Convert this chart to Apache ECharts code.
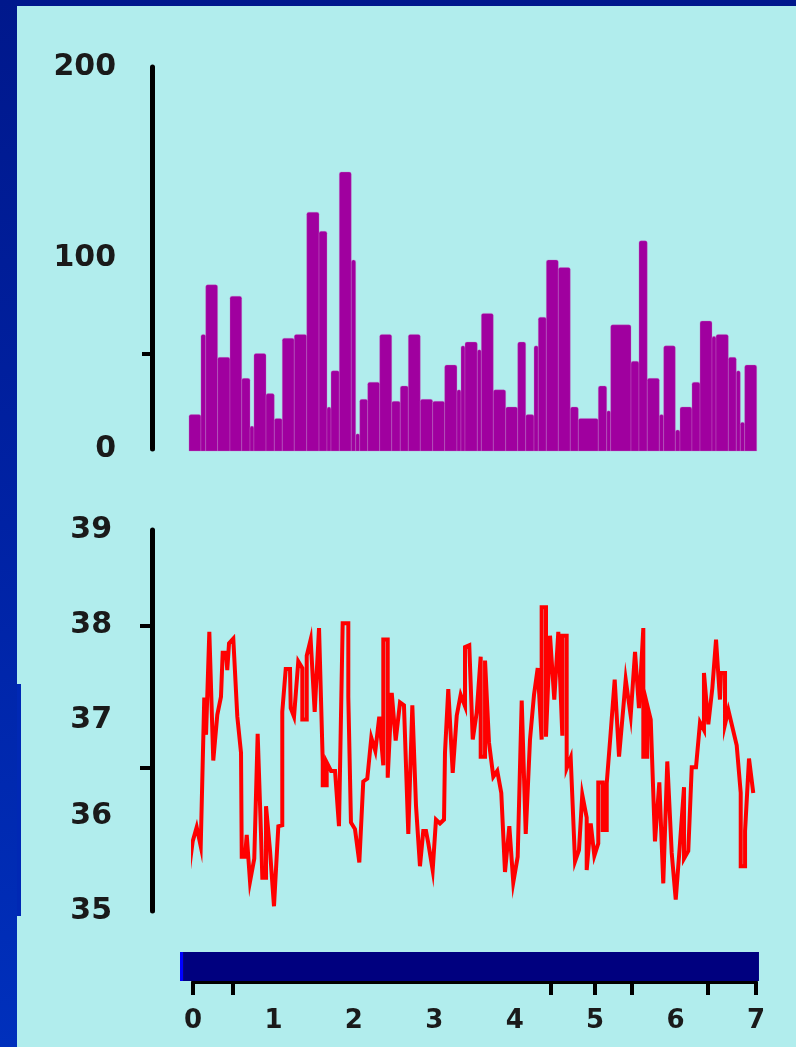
<!DOCTYPE html>
<html>
<head>
<meta charset="utf-8">
<script src="https://cdn.jsdelivr.net/npm/echarts@6/dist/echarts.min.js"></script>
<style>
  html, body { margin: 0; padding: 0; }
  body {
    width: 796px; height: 1047px; overflow: hidden; position: relative;
    background: linear-gradient(180deg, #00188c 0%, #0022a4 50%, #0030bc 100%);
  }
  #panel { position: absolute; left: 17px; top: 6px; right: 0; bottom: 0; background: #b1eded; }
  #notch { position: absolute; left: 17px; top: 684px; width: 4px; height: 232px; background: #0028b4; }
  #chart { position: absolute; left: 0; top: 0; width: 796px; height: 1047px; }
</style>
</head>
<body>
<div id="panel"></div>
<div id="notch"></div>
<div id="chart"></div>
<script>
// Activity counts per bin: bin edges in days, one count per bin
const barEdges = [-0.050, 0.099, 0.158, 0.306, 0.460, 0.606, 0.709, 0.758, 0.908, 1.011,
  1.110, 1.259, 1.414, 1.567, 1.666, 1.716, 1.819, 1.968, 2.023, 2.073,
  2.172, 2.321, 2.471, 2.577, 2.677, 2.826, 2.980, 3.129, 3.282, 3.332,
  3.382, 3.535, 3.585, 3.734, 3.888, 4.037, 4.137, 4.240, 4.293, 4.393,
  4.542, 4.691, 4.791, 5.039, 5.144, 5.193, 5.446, 5.545, 5.648, 5.798,
  5.852, 5.997, 6.055, 6.204, 6.304, 6.453, 6.503, 6.656, 6.755, 6.805,
  6.859, 7.009];
const barValues = [18, 60, 86, 48, 80, 37, 12, 50, 29, 16,
  58, 60, 124, 114, 22, 41, 145, 99, 8, 26,
  35, 60, 25, 33, 60, 26, 25, 44, 31, 54,
  56, 52, 71, 31, 22, 56, 18, 54, 69, 99,
  95, 22, 16, 33, 20, 65, 46, 109, 37, 18,
  54, 10, 22, 35, 67, 59, 60, 48, 41, 14,
  44];

// Body temperature samples (time in days, temperature in degrees)
const tempDays = [-0.058, -0.004, 0.046, 0.096, 0.140, 0.162, 0.203, 0.252, 0.302, 0.348,
  0.369, 0.410, 0.426, 0.448, 0.501, 0.551, 0.597, 0.606, 0.647, 0.668,
  0.709, 0.762, 0.804, 0.845, 0.862, 0.908, 0.908, 0.957, 1.007, 1.061,
  1.110, 1.110, 1.153, 1.206, 1.215, 1.256, 1.309, 1.359, 1.359, 1.414,
  1.414, 1.463, 1.513, 1.567, 1.613, 1.613, 1.662, 1.662, 1.716, 1.766,
  1.815, 1.861, 1.931, 1.931, 1.964, 2.014, 2.068, 2.117, 2.167, 2.217,
  2.267, 2.316, 2.366, 2.366, 2.421, 2.421, 2.471, 2.520, 2.574, 2.623,
  2.677, 2.727, 2.773, 2.822, 2.863, 2.897, 2.926, 2.980, 3.021, 3.071,
  3.121, 3.133, 3.174, 3.229, 3.279, 3.328, 3.382, 3.382, 3.435, 3.478,
  3.527, 3.577, 3.577, 3.631, 3.631, 3.680, 3.734, 3.783, 3.833, 3.879,
  3.933, 3.982, 4.037, 4.087, 4.137, 4.190, 4.240, 4.286, 4.335, 4.335,
  4.389, 4.389, 4.439, 4.492, 4.542, 4.592, 4.592, 4.646, 4.646, 4.696,
  4.750, 4.799, 4.840, 4.895, 4.895, 4.945, 4.990, 5.039, 5.039, 5.094,
  5.094, 5.144, 5.144, 5.193, 5.243, 5.297, 5.350, 5.380, 5.442, 5.496,
  5.545, 5.599, 5.599, 5.648, 5.648, 5.691, 5.744, 5.798, 5.847, 5.897,
  5.952, 6.002, 6.055, 6.105, 6.105, 6.158, 6.201, 6.254, 6.304, 6.353,
  6.353, 6.407, 6.457, 6.503, 6.552, 6.565, 6.615, 6.615, 6.656, 6.760,
  6.810, 6.810, 6.864, 6.864, 6.913, 6.966];
const tempValues = [35.38, 35.73, 35.88, 35.68, 37.24, 36.85, 37.93, 36.58, 37.06, 37.25,
  37.71, 37.71, 37.53, 37.81, 37.86, 37.04, 36.66, 35.57, 35.57, 35.80,
  35.31, 35.55, 36.86, 35.82, 35.35, 35.35, 36.10, 35.64, 35.05, 35.89,
  35.90, 37.09, 37.54, 37.54, 37.13, 37.04, 37.62, 37.55, 37.01, 37.01,
  37.68, 37.85, 37.09, 37.97, 36.57, 36.32, 36.32, 36.56, 36.47, 36.47,
  35.89, 38.02, 38.02, 37.25, 35.93, 35.86, 35.51, 36.36, 36.39, 36.82,
  36.68, 37.04, 36.53, 37.85, 37.85, 36.40, 37.29, 36.79, 37.19, 37.16,
  35.81, 37.16, 36.10, 35.47, 35.84, 35.84, 35.71, 35.43, 35.96, 35.92,
  35.96, 36.66, 37.33, 36.45, 37.05, 37.27, 37.15, 37.77, 37.79, 36.80,
  37.08, 37.67, 36.62, 36.62, 37.63, 36.77, 36.41, 36.47, 36.24, 35.41,
  35.89, 35.30, 35.57, 37.21, 35.81, 36.80, 37.27, 37.55, 36.80, 38.19,
  38.19, 36.83, 37.89, 37.22, 37.93, 36.84, 37.89, 37.89, 36.50, 36.61,
  35.52, 35.64, 36.22, 35.98, 35.43, 35.92, 35.58, 35.71, 36.35, 36.35,
  35.85, 35.85, 36.34, 36.87, 37.43, 36.62, 37.13, 37.43, 37.05, 37.72,
  37.13, 37.97, 36.62, 36.62, 37.16, 37.01, 35.73, 36.35, 35.29, 36.57,
  35.61, 35.12, 35.71, 36.30, 35.55, 35.63, 36.51, 36.51, 36.98, 36.90,
  37.50, 36.96, 37.34, 37.85, 37.22, 37.50, 37.50, 36.96, 37.11, 36.74,
  36.24, 35.47, 35.47, 35.84, 36.60, 36.24];

// Lighting schedule bar (days)
const phaseStart = [-0.162, -0.124];
const phaseEnd = [-0.124, 7.037];
const phaseName = ['light', 'dark'];

// Axis labels and tick positions
const dayLabels = [0, 1, 2, 3, 4, 5, 6, 7];
const dayTicks = [0, 0.5, 4.45, 5, 5.45, 6.4, 7];
const countLabels = [0, 100, 200];
const countTicks = [50];
const tempLabels = [35, 36, 37, 38, 39];
const tempTicks = [38, 36.5];

const phaseColor = { light: '#0000ff', dark: '#00007f' };
const labelFont = { fontFamily: 'DejaVu Sans', fontWeight: 'bold', color: '#1a1a1a' };

const barData = barValues.map((v, i) => [barEdges[i], barEdges[i + 1], v]);
const tempData = tempDays.map((d, i) => [d, tempValues[i]]);
const phaseData = phaseStart.map((s, i) => [s, phaseEnd[i], phaseName[i]]);

const chart = echarts.init(document.getElementById('chart'), null, { renderer: 'canvas' });

const hiddenX = (gridIndex) => ({
  type: 'value', gridIndex, min: 0, max: 7, interval: 1, show: false
});

chart.setOption({
  backgroundColor: 'transparent',
  animation: false,
  grid: [
    { left: 193, right: 40, top: 67, height: 382 },
    { left: 193, right: 40, top: 530, height: 381 },
    { left: 193, right: 40, top: 952, height: 30 }
  ],
  xAxis: [
    hiddenX(0),
    hiddenX(1),
    {
      type: 'value', gridIndex: 2, min: 0, max: 7, interval: 1,
      axisLine: { show: true, onZero: false, lineStyle: { color: '#000', width: 4 } },
      axisTick: { show: true, customValues: dayTicks, length: 13, lineStyle: { color: '#000', width: 4 } },
      axisLabel: { customValues: dayLabels, margin: 26, fontSize: 26, ...labelFont },
      splitLine: { show: false }
    }
  ],
  yAxis: [
    {
      type: 'value', gridIndex: 0, min: 0, max: 200, offset: 41,
      axisLine: { show: true, onZero: false, lineStyle: { color: '#000', width: 5 } },
      axisTick: { show: true, customValues: countTicks, length: 10, lineStyle: { color: '#000', width: 4 } },
      axisLabel: { customValues: countLabels, margin: 36, fontSize: 30, ...labelFont },
      splitLine: { show: false }
    },
    {
      type: 'value', gridIndex: 1, min: 35, max: 39, offset: 41,
      axisLine: { show: true, onZero: false, lineStyle: { color: '#000', width: 5 } },
      axisTick: { show: true, customValues: tempTicks, length: 12, lineStyle: { color: '#000', width: 4 } },
      axisLabel: { customValues: tempLabels, margin: 40, fontSize: 30, ...labelFont },
      splitLine: { show: false }
    },
    { type: 'value', gridIndex: 2, min: 0, max: 1, show: false }
  ],
  series: [
    {
      type: 'custom', name: 'activity', xAxisIndex: 0, yAxisIndex: 0, clip: false,
      data: barData,
      renderItem: (params, api) => {
        const p0 = api.coord([api.value(0), 0]);
        const p1 = api.coord([api.value(1), api.value(2)]);
        return {
          type: 'rect',
          shape: { x: p0[0], y: p1[1], width: p1[0] - p0[0], height: p0[1] - p1[1] + 2, r: [2, 2, 0, 0] },
          style: { fill: '#a0009f', stroke: 'rgba(200,120,200,0.55)', lineWidth: 0.6 }
        };
      }
    },
    {
      type: 'line', name: 'temperature', xAxisIndex: 1, yAxisIndex: 1, clip: false,
      data: tempData, showSymbol: false,
      lineStyle: { color: '#ff0000', width: 4, join: 'miter' }
    },
    {
      type: 'custom', name: 'lighting', xAxisIndex: 2, yAxisIndex: 2, clip: false,
      data: phaseData,
      renderItem: (params, api) => {
        const p0 = api.coord([api.value(0), 0]);
        const p1 = api.coord([api.value(1), 1]);
        const name = phaseData[params.dataIndex][2];
        return {
          type: 'rect',
          shape: { x: p0[0], y: p1[1], width: p1[0] - p0[0], height: p0[1] - p1[1] - 1 },
          style: { fill: phaseColor[name] }
        };
      },
      z: 1
    }
  ]
});
</script>
</body>
</html>
